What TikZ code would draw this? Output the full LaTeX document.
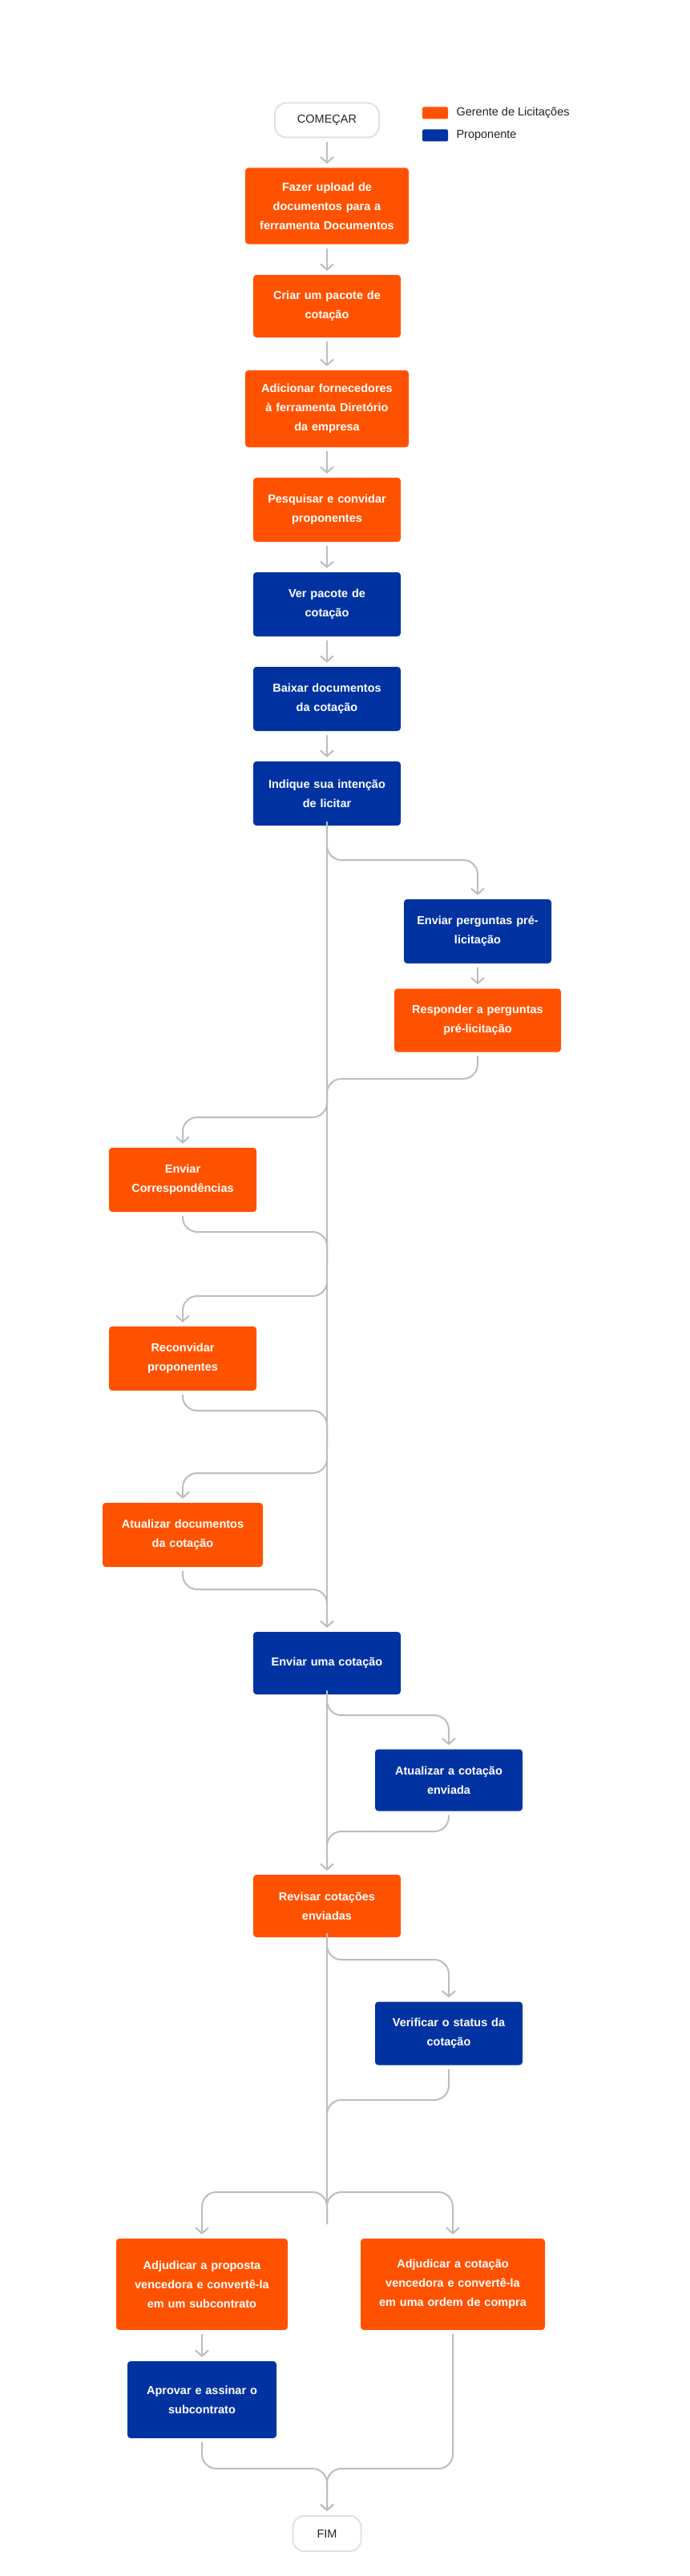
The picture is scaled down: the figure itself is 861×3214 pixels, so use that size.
\documentclass[tikz,border=0pt]{standalone}
\usepackage{fontspec}
\setmainfont{Liberation Sans}
\usetikzlibrary{arrows.meta}
\definecolor{og}{HTML}{FF5200}
\definecolor{bl}{HTML}{0033A1}
\definecolor{ln}{HTML}{BDBDBD}
\definecolor{tx}{HTML}{222222}
\begin{document}
\begin{tikzpicture}[x=1pt,y=-1pt,
  box/.style={rounded corners=4pt,text=white,align=center,inner sep=0pt,
    font=\fontsize{14.5}{24}\selectfont\bfseries},
  ob/.style={box,fill=og},
  bb/.style={box,fill=bl},
  term/.style={draw=ln!45,line width=2pt,rounded corners=14pt,fill=white,text=tx,
    font=\fontsize{14.5}{16}\selectfont,inner sep=0pt},
  conn/.style={draw=ln,line width=2pt,rounded corners=18pt},
  arr/.style={conn,-{Straight Barb[length=7pt,width=16pt,line width=2pt]},shorten >=5pt},
  sa/.style={arr,shorten <=5pt}]
\useasboundingbox (0,0) rectangle (861,3214);
\fill[white] (0,0) rectangle (861,3214);
\node[term,minimum width=130,minimum height=43] (start) at (408,150) {COMEÇAR};
\node[fill=og,rounded corners=2pt,minimum width=32,minimum height=15,inner sep=0pt] (lg1) at (543,141) {};
\node[fill=bl,rounded corners=2pt,minimum width=32,minimum height=15,inner sep=0pt] (lg2) at (543,169) {};
\node[anchor=west,text=tx,font=\fontsize{14.5}{16}\selectfont] (lt1) at (566,141) {Gerente de Licitações};
\node[anchor=west,text=tx,font=\fontsize{14.5}{16}\selectfont] (lt2) at (566,169) {Proponente};
\node[ob,minimum width=204,minimum height=95,text width=196] (n1) at (408,257) {Fazer upload de\\documentos para a\\ferramenta Documentos};
\node[ob,minimum width=184,minimum height=78,text width=176] (n2) at (408,382) {Criar um pacote de\\cotação};
\node[ob,minimum width=204,minimum height=96,text width=196] (n3) at (408,510) {Adicionar fornecedores\\à ferramenta Diretório\\da empresa};
\node[ob,minimum width=184,minimum height=80,text width=176] (n4) at (408,636) {Pesquisar e convidar\\proponentes};
\node[bb,minimum width=184,minimum height=80,text width=176] (n5) at (408,754) {Ver pacote de\\cotação};
\node[bb,minimum width=184,minimum height=80,text width=176] (n6) at (408,872) {Baixar documentos\\da cotação};
\node[bb,minimum width=184,minimum height=80,text width=176] (n7) at (408,990) {Indique sua intenção\\de licitar};
\node[bb,minimum width=184,minimum height=80,text width=178] (q1) at (596,1162) {Enviar perguntas pré-\\licitação};
\node[ob,minimum width=208,minimum height=79,text width=200] (q2) at (596,1273) {Responder a perguntas\\pré-licitação};
\node[ob,minimum width=184,minimum height=80,text width=176] (c1) at (228,1472) {Enviar\\Correspondências};
\node[ob,minimum width=184,minimum height=80,text width=176] (c2) at (228,1695) {Reconvidar\\proponentes};
\node[ob,minimum width=200,minimum height=80,text width=192] (c3) at (228,1915) {Atualizar documentos\\da cotação};
\node[bb,minimum width=184,minimum height=78,text width=176] (s1) at (408,2075) {Enviar uma cotação};
\node[bb,minimum width=184,minimum height=77,text width=176] (s2) at (560,2221) {Atualizar a cotação\\enviada};
\node[ob,minimum width=184,minimum height=78,text width=176] (r1) at (408,2378) {Revisar cotações\\enviadas};
\node[bb,minimum width=184,minimum height=79,text width=176] (r2) at (560,2537) {Verificar o status da\\cotação};
\node[ob,minimum width=214,minimum height=114,text width=206] (a1) at (252,2850) {Adjudicar a proposta\\vencedora e convertê-la\\em um subcontrato};
\node[ob,minimum width=230,minimum height=114,text width=222] (a2) at (565,2850) {Adjudicar a cotação\\vencedora e convertê-la\\em uma ordem de compra};
\node[bb,minimum width=186,minimum height=96,text width=178] (a3) at (252,2994) {Aprovar e assinar o\\subcontrato};
\node[term,minimum width=85,minimum height=44] (fim) at (408,3161) {FIM};
% coordinates
\coordinate (b1) at (408,1073); \coordinate (b1r) at (596,1073);
\coordinate (m1r) at (596,1346); \coordinate (m1) at (408,1346);
\coordinate (b2) at (408,1394); \coordinate (b2l) at (228,1394);
\coordinate (m2l) at (228,1537); \coordinate (m2) at (408,1537);
\coordinate (b3) at (408,1617); \coordinate (b3l) at (228,1617);
\coordinate (m3l) at (228,1760); \coordinate (m3) at (408,1760);
\coordinate (b4) at (408,1838); \coordinate (b4l) at (228,1838);
\coordinate (m4l) at (228,1983); \coordinate (m4) at (408,1983);
\coordinate (b5) at (408,2140); \coordinate (b5r) at (560,2140);
\coordinate (m5r) at (560,2285); \coordinate (m5) at (408,2285);
\coordinate (b6) at (408,2445); \coordinate (b6r) at (560,2445);
\coordinate (m6r) at (560,2620); \coordinate (m6) at (408,2620);
\coordinate (sp) at (408,2735); \coordinate (spl) at (252,2735); \coordinate (spr) at (565,2735);
\coordinate (e) at (408,3080); \coordinate (el) at (252,3080); \coordinate (er) at (565,3080);
% connectors
\draw[sa] (start) -- (n1);
\draw[sa] (n1) -- (n2);
\draw[sa] (n2) -- (n3);
\draw[sa] (n3) -- (n4);
\draw[sa] (n4) -- (n5);
\draw[sa] (n5) -- (n6);
\draw[sa] (n6) -- (n7);
\draw[sa] (n7) -- (s1);
\draw[arr] ([yshift=5pt]n7.south) -- (b1) -- (b1r) -- (q1.north);
\draw[sa] (q1) -- (q2);
\draw[conn,shorten <=5pt] (q2.south) -- (m1r) -- (m1) -- ++(0,40);
\draw[arr] (m1) -- (b2) -- (b2l) -- (c1.north);
\draw[conn,shorten <=5pt] (c1.south) -- (m2l) -- (m2) -- ++(0,40);
\draw[arr] (m2) -- (b3) -- (b3l) -- (c2.north);
\draw[conn,shorten <=5pt] (c2.south) -- (m3l) -- (m3) -- ++(0,40);
\draw[arr] (m3) -- (b4) -- (b4l) -- (c3.north);
\draw[conn,shorten <=5pt] (c3.south) -- (m4l) -- (m4) -- ++(0,40);
\draw[sa] (s1) -- (r1);
\draw[arr] ([yshift=5pt]s1.south) -- (b5) -- (b5r) -- (s2.north);
\draw[conn,shorten <=5pt] (s2.south) -- (m5r) -- (m5) -- ++(0,40);
\draw[arr] ([yshift=5pt]r1.south) -- (b6) -- (b6r) -- (r2.north);
\draw[conn,shorten <=5pt] (r2.south) -- (m6r) -- (m6) -- ++(0,40);
\draw[conn,shorten <=5pt] (r1.south) -- ([yshift=-30pt]sp);
\draw[arr] ([yshift=-40pt]sp) -- (sp) -- (spl) -- (a1.north);
\draw[arr] ([yshift=-40pt]sp) -- (sp) -- (spr) -- (a2.north);
\draw[sa] (a1) -- (a3);
\draw[arr,shorten <=5pt] (a3.south) -- (el) -- (e) -- (fim.north);
\draw[arr,shorten <=5pt] (a2.south) -- (er) -- (e) -- (fim.north);
\end{tikzpicture}
\end{document}
